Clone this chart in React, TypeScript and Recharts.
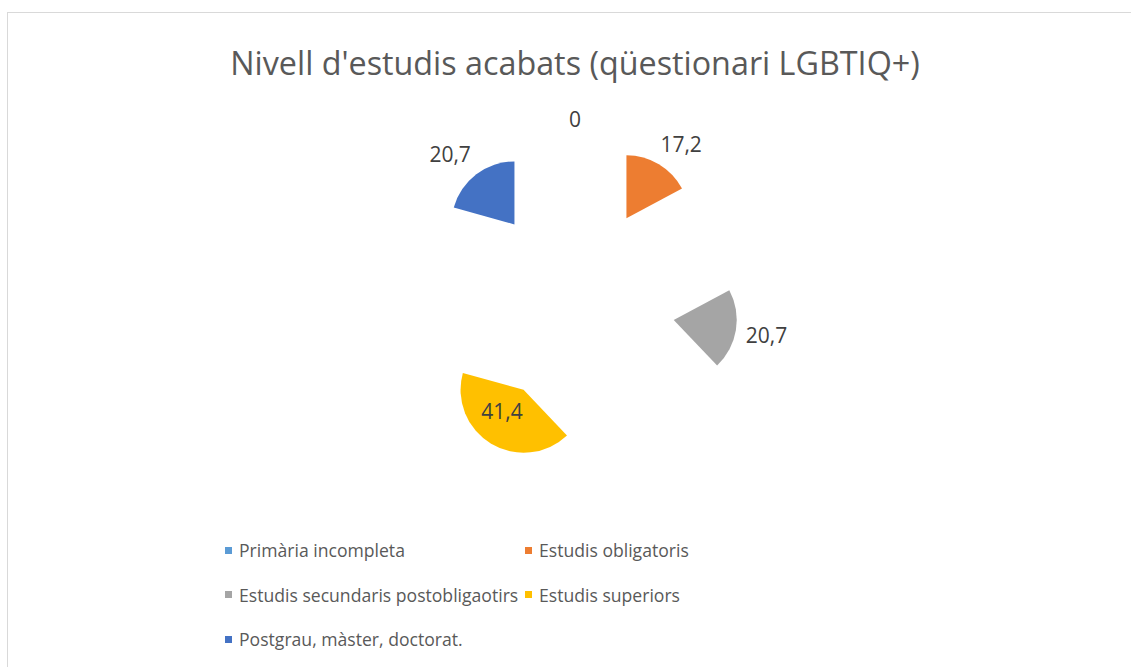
import React from "react";
import { PieChart, Pie, Cell, Legend } from "recharts";

const categories = [
  "Primària incompleta",
  "Estudis obligatoris",
  "Estudis secundaris postobligaotirs",
  "Estudis superiors",
  "Postgrau, màster, doctorat.",
];
const values = [0, 17.2, 20.7, 41.4, 20.7];
const colors = ["#5B9BD5", "#ED7D31", "#A5A5A5", "#FFC000", "#4472C4"];
const title = "Nivell d'estudis acabats (qüestionari LGBTIQ+)";

const rows = categories.map((name, i) => ({ name, value: values[i] }));

// pie centre (chart coords), radius and explosion distance
const CX = 567;
const CY = 291;
const R = 63;
const EXPLODE = 100;
const FONT = "'Open Sans', sans-serif";

const total = values.reduce((a, b) => a + b, 0);
let acc = 0;
const mids = values.map((v) => {
  const m = ((acc + v / 2) / total) * 360;
  acc += v;
  return m;
});

const fmt = (v: number) => String(v).replace(".", ",");
const clamp = (v: number) => Math.max(-1, Math.min(1, v));

const renderLabel = (slice: number) => (p: any) => {
  if (p.index !== slice) return null;
  const rad = Math.PI / 180;
  const dx = Math.cos(-p.midAngle * rad);
  const dy = Math.sin(-p.midAngle * rad);
  const text = fmt(p.value);
  let x: number;
  let y: number;
  if (p.percent > 0.3) {
    // best fit: big slice gets its label inside
    const d = p.outerRadius * 0.48;
    x = p.cx + dx * d - 6;
    y = p.cy + dy * d - 5;
  } else {
    // outside end: box sits just past the arc
    const hw = text.length * 5.2;
    const d = p.outerRadius + 10;
    x = p.cx + dx * d + clamp(dx * 1.6) * hw;
    y = p.cy + dy * d + clamp(dy * 1.6) * 12;
  }
  return (
    <text
      x={x}
      y={y}
      textAnchor="middle"
      dominantBaseline="central"
      fill="#404040"
      fontSize={21}
      fontFamily={FONT}
    >
      {text}
    </text>
  );
};

const LegendGrid = (props: any) => {
  const seen = new Set<string>();
  const items = (props.payload || [])
    .filter((e: any) => {
      if (seen.has(e.value)) return false;
      seen.add(e.value);
      return true;
    })
    .sort((a: any, b: any) => categories.indexOf(a.value) - categories.indexOf(b.value));
  return (
    <div
      style={{
        display: "grid",
        gridTemplateColumns: "300px 320px",
        fontFamily: FONT,
        fontSize: 17.6,
        color: "#595959",
      }}
    >
      {items.map((e: any) => (
        <div
          key={e.value}
          style={{ height: 44.5, display: "flex", alignItems: "center", whiteSpace: "nowrap" }}
        >
          <span
            style={{
              width: 7,
              height: 7,
              background: colors[categories.indexOf(e.value)],
              marginRight: 7,
              flex: "none",
            }}
          />
          {e.value}
        </div>
      ))}
    </div>
  );
};

export default function App() {
  return (
    <div
      style={{
        position: "fixed",
        left: 0,
        top: 0,
        width: 1131,
        height: 667,
        overflow: "hidden",
        background: "#fff",
      }}
    >
      <div
        style={{
          position: "absolute",
          left: 7,
          top: 12,
          width: 1134,
          height: 700,
          border: "1px solid #d9d9d9",
        }}
      >
        <PieChart width={1134} height={700} margin={{ top: 0, right: 0, bottom: 0, left: 0 }}>
          <text
            x={CX}
            y={62}
            textAnchor="middle"
            fill="#595959"
            fontSize={32.3}
            fontFamily={FONT}
          >
            {title}
          </text>
          {rows.map((_, i) => (
            <Pie
              key={i}
              data={rows}
              dataKey="value"
              nameKey="name"
              cx={CX + EXPLODE * Math.sin((mids[i] * Math.PI) / 180)}
              cy={CY - EXPLODE * Math.cos((mids[i] * Math.PI) / 180)}
              outerRadius={R}
              startAngle={90}
              endAngle={-270}
              stroke="none"
              label={renderLabel(i)}
              labelLine={false}
              legendType={i === 0 ? "square" : "none"}
              isAnimationActive={false}
            >
              {rows.map((r, j) => (
                <Cell key={r.name} fill={j === i ? colors[j] : "transparent"} />
              ))}
            </Pie>
          ))}
          <Legend
            content={<LegendGrid />}
            wrapperStyle={{ left: 217, top: 515, bottom: "auto", width: 620 }}
          />
        </PieChart>
      </div>
    </div>
  );
}
